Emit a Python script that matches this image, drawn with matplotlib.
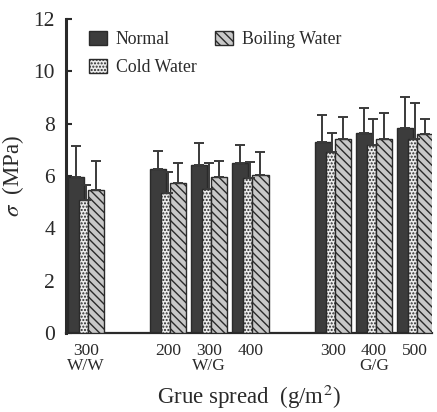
import matplotlib
matplotlib.use("Agg")
import matplotlib.pyplot as plt
import numpy as np

plt.rcParams['font.family'] = ['Liberation Serif', 'DejaVu Serif']
plt.rcParams['hatch.linewidth'] = 1.0
plt.rcParams['mathtext.fontset'] = 'stix'

# Glue spread groups (slot positions leave gaps between joint types)
positions = [0, 2, 3, 4, 6, 7, 8]
tick_labels = ["300\nW/W", "200", "300\nW/G", "400", "300", "400\nG/G", "500"]

normal = [5.95, 6.25, 6.42, 6.50, 7.30, 7.64, 7.83]
normal_err = [1.20, 0.70, 0.85, 0.68, 1.03, 0.96, 1.19]

cold = [5.08, 5.35, 5.50, 5.92, 6.92, 7.18, 7.41]
cold_err = [0.57, 0.80, 1.00, 0.61, 0.72, 1.00, 1.38]

boiling = [5.46, 5.73, 5.96, 6.04, 7.41, 7.41, 7.60]
boiling_err = [1.11, 0.76, 0.61, 0.88, 0.84, 0.99, 0.58]

fig = plt.figure(figsize=(4.37, 4.12), dpi=100)
ax = fig.add_axes([0.151, 0.192, 0.838, 0.762])

x = np.array(positions, dtype=float)
ink = '#2a2a2a'

# Normal (solid dark), drawn first; cold water overlaps it; boiling water on the right
ax.bar(x - 0.244, normal, width=0.39, color='#3c3c3c', edgecolor=ink,
       linewidth=1.0, label='Normal', zorder=2)
ax.bar(x + 0.049 - 0.11, cold, width=0.22, color='#ececec', edgecolor=ink,
       hatch='.....', linewidth=1.0, label='Cold Water', zorder=3)
ax.bar(x + 0.244, boiling, width=0.39, color='#c8c8c8', edgecolor=ink,
       hatch='\\\\\\\\', linewidth=1.0, label='Boiling Water', zorder=3)

ek = dict(fmt='none', ecolor='#3a3a3a', elinewidth=1.4, capsize=3.5,
          capthick=1.4, zorder=4)
ax.errorbar(x - 0.25, normal, yerr=[np.zeros(len(x)), normal_err], **ek)
ax.errorbar(x - 0.01, cold, yerr=[np.zeros(len(x)), cold_err], **ek)
ax.errorbar(x + 0.244, boiling, yerr=[np.zeros(len(x)), boiling_err], **ek)

ax.set_xlim(-0.487, 8.42)
ax.set_ylim(0, 12)
ax.set_yticks(range(0, 13, 2))
ax.set_xticks(positions)
ax.set_xticklabels(tick_labels, fontsize=12.5, linespacing=0.95, color=ink)
ax.tick_params(axis='x', length=0, pad=7)
ax.tick_params(axis='y', direction='in', length=4, width=1.5, labelsize=15.5,
               colors=ink, pad=8)

for side in ('top', 'right'):
    ax.spines[side].set_visible(False)
ax.spines['left'].set_linewidth(2.2)
ax.spines['bottom'].set_linewidth(1.6)
ax.spines['left'].set_color(ink)
ax.spines['bottom'].set_color(ink)

ax.set_ylabel(r'$\sigma$  (MPa)', fontsize=16.5, color=ink, labelpad=5)
ax.set_xlabel(r'Grue spread  (g/m$^2$)', fontsize=16.5, color=ink, labelpad=6)

leg = ax.legend(ncol=2, loc='upper left', bbox_to_anchor=(0.043, 0.985),
                borderaxespad=0, frameon=False, fontsize=12.8,
                handlelength=1.0, handleheight=0.85,
                columnspacing=1.05, labelspacing=0.62, handletextpad=0.5)
for t in leg.get_texts():
    t.set_color(ink)

fig.savefig('out.png', dpi=100)
